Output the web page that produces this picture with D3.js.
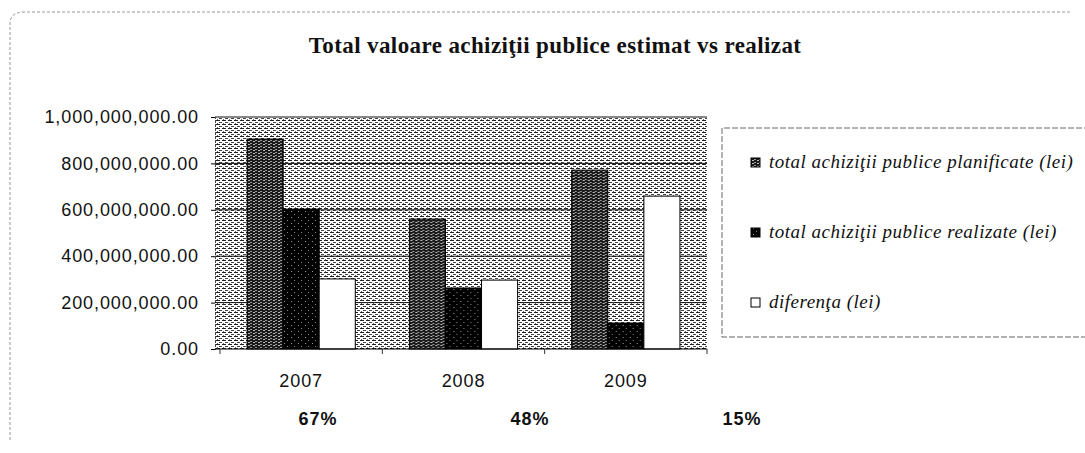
<!DOCTYPE html>
<html>
<head>
<meta charset="utf-8">
<script src="https://cdn.jsdelivr.net/npm/d3@7"></script>
<style>
  body { margin: 0; background: #fff; }
  .tick-label { font-family: "Liberation Sans", Arial, sans-serif; font-size: 18px; letter-spacing: 0.9px; fill: #111; }
  .pct-label { font-family: "Liberation Sans", Arial, sans-serif; font-size: 18px; font-weight: bold; letter-spacing: 1px; fill: #111; }
  .legend-text { font-family: "Liberation Serif", serif; font-style: italic; font-size: 19px; letter-spacing: 0.5px; fill: #111; }
  .title { font-family: "Liberation Serif", serif; font-weight: bold; font-size: 23px; letter-spacing: 0.4px; fill: #111; }
</style>
</head>
<body>
<svg id="chart" width="1085" height="453"></svg>
<script>
var years = ["2007", "2008", "2009"];
var seriesNames = ["total achiziţii publice planificate (lei)", "total achiziţii publice realizate (lei)", "diferenţa (lei)"];
var planned  = [905000000, 560000000, 771000000];
var realized = [603000000, 263000000, 112000000];
var diff     = [302000000, 297000000, 659000000];
var percents = ["67%", "48%", "15%"];
var yTicks = [0, 200000000, 400000000, 600000000, 800000000, 1000000000];

var svg = d3.select("#chart");

// patterns to imitate the scanned hatching
var defs = svg.append("defs");
var bg = defs.append("pattern").attr("id", "bgHatch").attr("patternUnits", "userSpaceOnUse")
  .attr("width", 6).attr("height", 4);
bg.append("rect").attr("width", 6).attr("height", 4).attr("fill", "#fff");
bg.append("rect").attr("x", 0).attr("y", 0).attr("width", 4).attr("height", 1).attr("fill", "#222");
bg.append("rect").attr("x", 3).attr("y", 2).attr("width", 3).attr("height", 1).attr("fill", "#444");
bg.append("rect").attr("x", 1).attr("y", 3).attr("width", 1).attr("height", 1).attr("fill", "#666");

var pl = defs.append("pattern").attr("id", "plannedHatch").attr("patternUnits", "userSpaceOnUse")
  .attr("width", 5).attr("height", 3);
pl.append("rect").attr("width", 5).attr("height", 3).attr("fill", "#1a1a1a");
pl.append("rect").attr("x", 1).attr("y", 0).attr("width", 2).attr("height", 1).attr("fill", "#bbb");
pl.append("rect").attr("x", 3).attr("y", 2).attr("width", 2).attr("height", 1).attr("fill", "#999");

var re = defs.append("pattern").attr("id", "realizedHatch").attr("patternUnits", "userSpaceOnUse")
  .attr("width", 7).attr("height", 6);
re.append("rect").attr("width", 7).attr("height", 6).attr("fill", "#000");
re.append("rect").attr("x", 2).attr("y", 1).attr("width", 1).attr("height", 1).attr("fill", "#999");
re.append("rect").attr("x", 5).attr("y", 4).attr("width", 1).attr("height", 1).attr("fill", "#888");

var fills = ["url(#plannedHatch)", "url(#realizedHatch)", "#fff"];

// outer chart frame (only top and left visible in the scan)
svg.append("path")
  .attr("d", "M10,440 L10,24 Q10,12 24,12 L1072,12")
  .attr("fill", "none").attr("stroke", "#999").attr("stroke-dasharray", "3,2");

svg.append("text").attr("class", "title")
  .attr("x", 555).attr("y", 53).attr("text-anchor", "middle")
  .text("Total valoare achiziţii publice estimat vs realizat");

var x = d3.scaleBand().domain(years).range([220, 707]).paddingInner(1/3).paddingOuter(1/6);
var xSub = d3.scaleBand().domain(d3.range(3)).range([0, x.bandwidth()]);
var y = d3.scaleLinear().domain([0, 1000000000]).range([349, 117]);

var plot = svg.append("g");
plot.append("rect")
  .attr("x", 215).attr("y", y(1000000000))
  .attr("width", 707 - 215).attr("height", y(0) - y(1000000000))
  .attr("fill", "url(#bgHatch)");

// grid lines
plot.selectAll("line.grid")
  .data(yTicks.slice(1))
  .enter()
  .append("line")
  .attr("class", "grid")
  .attr("x1", 215).attr("x2", 707)
  .attr("y1", function(d) { return y(d); })
  .attr("y2", function(d) { return y(d); })
  .style("stroke", "#111");

// bars
var seriesData = [planned, realized, diff];
years.forEach(function(yr, i) {
  var g = plot.append("g").attr("transform", "translate(" + x(yr) + ",0)");
  g.selectAll("rect")
    .data(seriesData.map(function(s) { return s[i]; }))
    .enter()
    .append("rect")
    .attr("x", function(d, k) { return xSub(k); })
    .attr("y", function(d) { return y(d); })
    .attr("width", xSub.bandwidth())
    .attr("height", function(d) { return y(0) - y(d); })
    .attr("fill", function(d, k) { return fills[k]; })
    .attr("stroke", "#000")
    .attr("stroke-width", 1);
});

// y axis
var yAxis = svg.append("g").attr("transform", "translate(215,0)")
  .call(d3.axisLeft(y).tickValues(yTicks).tickFormat(d3.format(",.2f")).tickSize(4).tickPadding(12));
yAxis.select(".domain").attr("stroke", "#444").attr("stroke-dasharray", "2,2");
yAxis.selectAll("text").attr("class", "tick-label").attr("font-family", null).attr("font-size", null);

// x axis
var xAxis = svg.append("g").attr("transform", "translate(0," + y(0) + ")");
xAxis.append("line").attr("x1", 215).attr("x2", 707).style("stroke", "#000");
var bounds = years.map(function(yr) { return x(yr) - x.step() * x.paddingInner() / 2; });
bounds.push(x(years[2]) + x.bandwidth() + x.step() * x.paddingInner() / 2);
xAxis.selectAll("line.tk")
  .data(bounds)
  .enter()
  .append("line")
  .attr("class", "tk")
  .attr("x1", function(d) { return d; }).attr("x2", function(d) { return d; })
  .attr("y1", 0).attr("y2", 5)
  .style("stroke", "#333");
xAxis.selectAll("text")
  .data(years)
  .enter()
  .append("text")
  .attr("class", "tick-label")
  .attr("x", function(d) { return x(d) + x.bandwidth() / 2; })
  .attr("y", 38)
  .attr("text-anchor", "middle")
  .text(function(d) { return d; });

// percentage row under the chart
var px = d3.scalePoint().domain(percents).range([318, 742]);
svg.selectAll("text.pct-label")
  .data(percents)
  .enter()
  .append("text")
  .attr("class", "pct-label")
  .attr("x", function(d) { return px(d); })
  .attr("y", 425)
  .attr("text-anchor", "middle")
  .text(function(d) { return d; });

// legend
var legend = svg.append("g");
legend.append("path")
  .attr("d", "M1090,128 L722,128 L722,337 L1090,337")
  .attr("fill", "none").attr("stroke", "#666").attr("stroke-dasharray", "6,2");
var ly = d3.scalePoint().domain(seriesNames).range([163, 303]);
var items = legend.selectAll("g.item")
  .data(seriesNames)
  .enter()
  .append("g")
  .attr("class", "item")
  .attr("transform", function(d) { return "translate(751," + ly(d) + ")"; });
items.append("rect")
  .attr("x", 0).attr("y", -5).attr("width", 9).attr("height", 9)
  .attr("fill", function(d, i) { return fills[i]; })
  .attr("stroke", "#000");
items.append("text")
  .attr("class", "legend-text")
  .attr("x", 18).attr("y", 5)
  .text(function(d) { return d; });
</script>
</body>
</html>
